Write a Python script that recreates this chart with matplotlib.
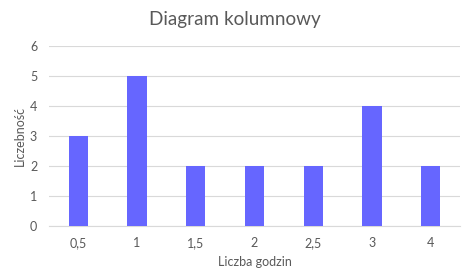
import matplotlib
matplotlib.use("Agg")
import matplotlib.pyplot as plt

categories = ["0,5", "1", "1,5", "2", "2,5", "3", "4"]
values = [3, 5, 2, 2, 2, 4, 2]

plt.rcParams['font.family'] = ['Lato', 'DejaVu Sans']
txt = '#595959'

fig = plt.figure(figsize=(4.7, 2.76), dpi=100)
ax = fig.add_axes([49/470, 1-226/276, 411/470, 180/276])
x = list(range(len(categories)))
ax.bar(x, values, width=0.33, color='#6666FF', zorder=3)
ax.set_xlim(-0.5, len(categories)-0.5)
ax.set_ylim(0, 6)
ax.set_yticks(range(0, 7))
ax.set_xticks(x)
ax.set_xticklabels(categories)
ax.grid(axis='y', color='#d9d9d9', linewidth=0.8, zorder=0)
for s in ['top', 'right', 'left']:
    ax.spines[s].set_visible(False)
ax.spines['bottom'].set_color('#d9d9d9')
ax.tick_params(axis='both', length=0, colors=txt, labelsize=9)
ax.tick_params(axis='y', pad=8.5)
ax.tick_params(axis='x', pad=8)
ax.set_xlabel('Liczba godzin', color=txt, fontsize=9, labelpad=5)
ax.set_ylabel('Liczebność', color=txt, fontsize=9)
ax.yaxis.set_label_coords(-23/411, 0.5)
fig.text(0.5, 1-20/276, 'Diagram kolumnowy', ha='center', va='center', color=txt, fontsize=13.6)
fig.savefig('out.png', dpi=100)
